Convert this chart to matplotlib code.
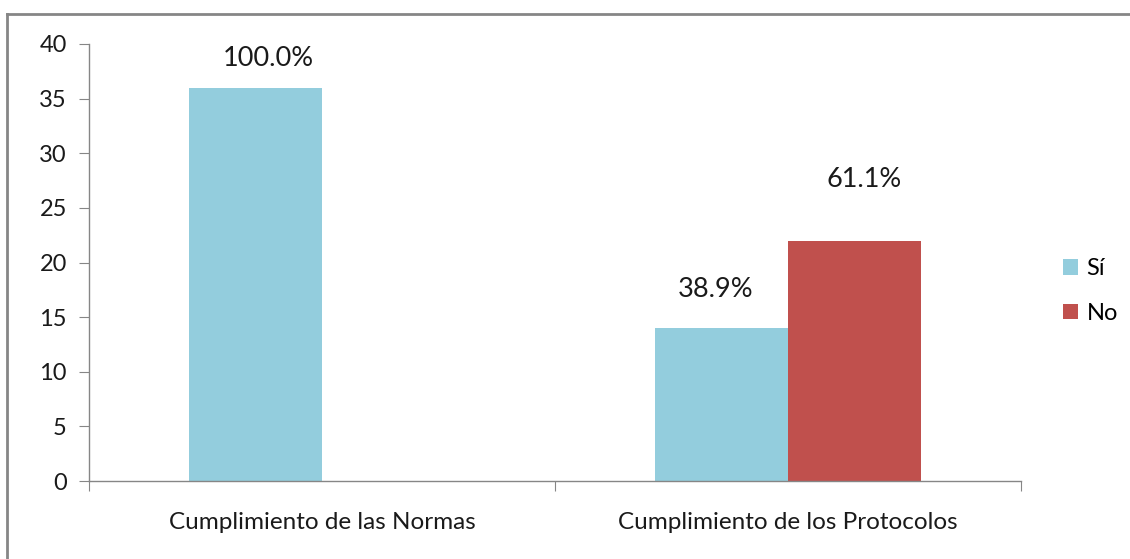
import matplotlib.pyplot as plt
from matplotlib.lines import Line2D
import numpy as np

plt.rcParams['font.family'] = ['Lato', 'DejaVu Sans']

# data
categorias = ['Cumplimiento de las Normas', 'Cumplimiento de los Protocolos']
si = [36, 14]
no = [0, 22]
etiquetas_si = ['100.0%', '38.9%']
etiquetas_no = [None, '61.1%']
series = ['Sí', 'No']
colores = ['#93CDDD', '#C0504D']

fig = plt.figure(figsize=(11.3, 5.59), dpi=100)
ax = fig.add_axes([89 / 1130, 1 - 481 / 559, 932 / 1130, 437 / 559])

x = np.arange(len(categorias))
ancho = 1 / 3.5
b1 = ax.bar(x - ancho / 2, si, ancho, color=colores[0], label=series[0])
b2 = ax.bar(x + ancho / 2, no, ancho, color=colores[1], label=series[1])

# data labels (offsets in points, as placed in the original)
off_si = [(9, 21), (-4, 28)]
off_no = [(7, 44)]
for rect, txt, off in zip(b1, etiquetas_si, off_si):
    ax.annotate(txt, (rect.get_x() + rect.get_width() / 2, rect.get_height()),
                xytext=off, textcoords='offset points', ha='center', va='center',
                fontsize=19.5, color='#1a1a1a')
for rect, txt in zip(b2, etiquetas_no):
    if txt is None:
        continue
    ax.annotate(txt, (rect.get_x() + rect.get_width() / 2, rect.get_height()),
                xytext=off_no[0], textcoords='offset points', ha='center', va='center',
                fontsize=19.5, color='#1a1a1a')

ax.set_ylim(0, 40)
ax.set_yticks(range(0, 41, 5))
ax.set_xlim(-0.5, len(categorias) - 0.5)
ax.set_xticks(np.arange(-0.5, len(categorias), 1.0))
ax.set_xticklabels([])
ax.set_xticks(x, minor=True)
ax.set_xticklabels(categorias, minor=True)
ax.tick_params(axis='x', which='minor', length=0, pad=22, labelsize=17.5, labelcolor='#1a1a1a')
ax.tick_params(axis='x', which='major', length=7, color='#868686', direction='out')
ax.tick_params(axis='y', length=7, color='#868686', labelsize=17, labelcolor='#1a1a1a', pad=9)

for s in ['top', 'right']:
    ax.spines[s].set_visible(False)
for s in ['left', 'bottom']:
    ax.spines[s].set_color('#868686')
    ax.spines[s].set_linewidth(1)

leg = ax.legend(loc='center left', bbox_to_anchor=(1.045, 0.435), frameon=False,
                fontsize=17, handlelength=0.65, handleheight=0.65, handletextpad=0.35,
                labelspacing=1.0, borderpad=0, borderaxespad=0)

# chart area border (left and top edges visible)
fig.add_artist(Line2D([7 / 1130, 7 / 1130], [0, 1 - 14 / 559], color='#868686', lw=2))
fig.add_artist(Line2D([7 / 1130, 1], [1 - 14 / 559, 1 - 14 / 559], color='#868686', lw=2))

fig.savefig('out.png', dpi=100)
